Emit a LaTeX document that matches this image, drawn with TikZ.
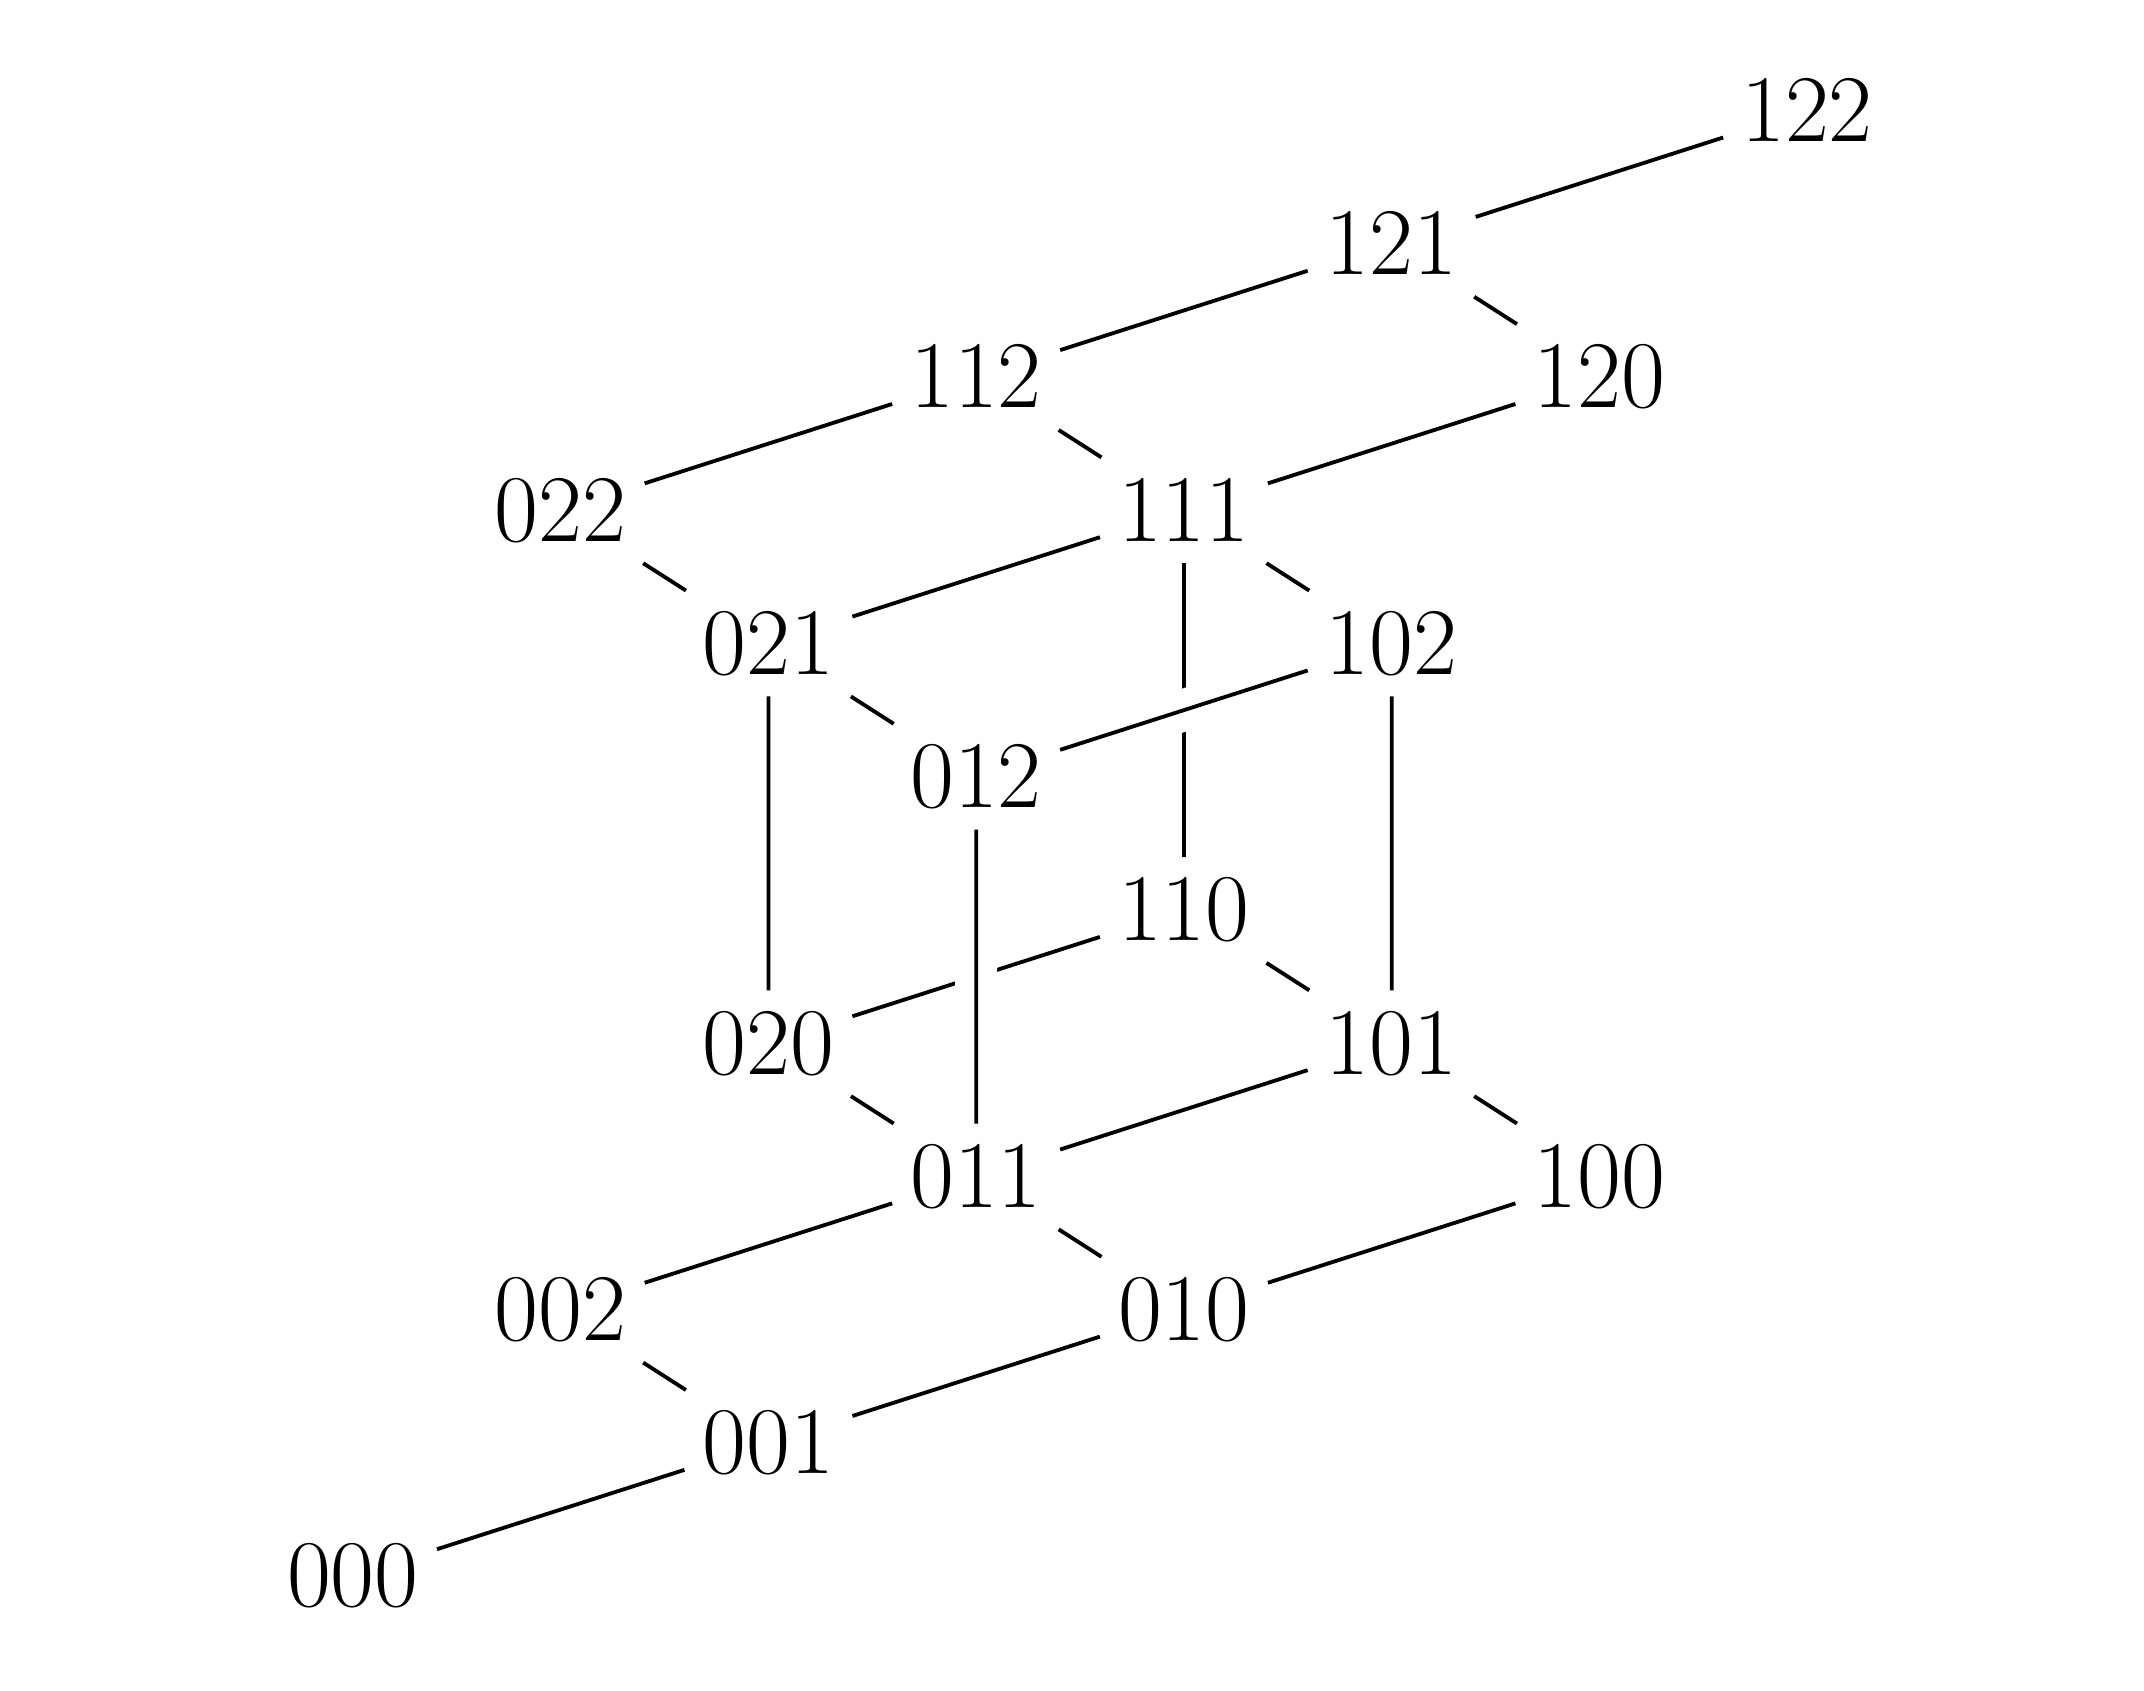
\documentclass[tikz,border=0pt]{standalone}
\usepackage{amsmath,amssymb}
\usepackage{tikz}

\begin{document}
\begin{tikzpicture}[xscale=0.764,yscale=0.49,
    every node/.style={font=\LARGE,scale=0.5787,inner xsep=3.1pt,inner ysep=3.8pt},
    infront/.style={draw=white,double=black,double distance=0.4pt,line width=2pt}]
    \useasboundingbox (-1.699,-0.856) rectangle (8.622,11.83);
    \node(000) at (0,0) {$000$};
    \node(001) at (2,1) {$001$};
    \node(002) at (1,2) {$002$};
    \node(010) at (4,2) {$010$};
    \node(011) at (3,3) {$011$};
    \node(100) at (6,3) {$100$};
    \node(020) at (2,4) {$020$};
    \node(101) at (5,4) {$101$};
    \node(110) at (4,5) {$110$};
    \node(012) at (3,6) {$012$};
    \node(021) at (2,7) {$021$};
    \node(102) at (5,7) {$102$};
    \node(022) at (1,8) {$022$};
    \node(111) at (4,8) {$111$};
    \node(112) at (3,9) {$112$};
    \node(120) at (6,9) {$120$};
    \node(121) at (5,10) {$121$};
    \node(122) at (7,11) {$122$};
    \path (000) edge (001);
    \path (001) edge (002);
    \path (001) edge (010);
    \path (002) edge (011);
    \path (010) edge (011);
    \path (010) edge (100);
    \path (011) edge (020);
    \path (011) edge (101);
    \path (100) edge (101);
    \path (020) edge (021);
    \path (020) edge (110);
    \path (101) edge (110);
    \path (101) edge (102);
    \path (110) edge (111);
    \path (011) edge[infront] (012);
    \path (012) edge (021);
    \path (012) edge[infront] (102);
    \path (021) edge (022);
    \path (021) edge (111);
    \path (102) edge (111);
    \path (022) edge (112);
    \path (111) edge (112);
    \path (111) edge (120);
    \path (112) edge (121);
    \path (120) edge (121);
    \path (121) edge (122);
  \end{tikzpicture}
\end{document}
